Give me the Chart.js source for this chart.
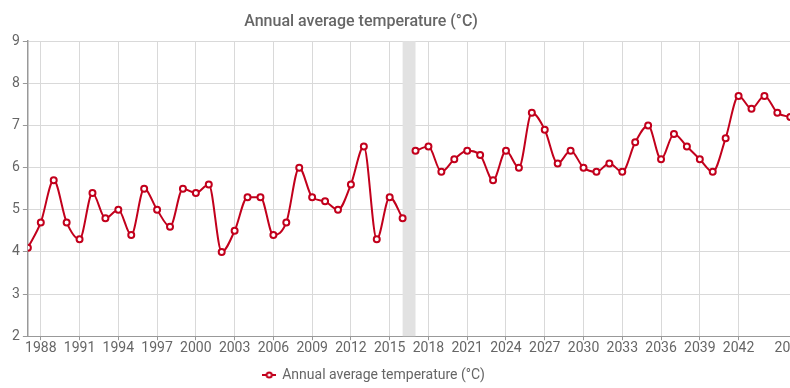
<!DOCTYPE html>
<html>
<head>
<meta charset="utf-8">
<script src="https://cdn.jsdelivr.net/npm/chart.js@4.4.1/dist/chart.umd.min.js"></script>
<style>
  html, body { margin: 0; padding: 0; background: #fff; overflow: hidden; }
  #wrap { width: 806px; height: 388px; }
</style>
</head>
<body>
<div id="wrap"><canvas id="myChart"></canvas></div>
<script>
const title = 'Annual average temperature (°C)';

// observed part, 1987-2016
const yearsA = [1987, 1988, 1989, 1990, 1991, 1992, 1993, 1994, 1995, 1996,
    1997, 1998, 1999, 2000, 2001, 2002, 2003, 2004, 2005, 2006,
    2007, 2008, 2009, 2010, 2011, 2012, 2013, 2014, 2015, 2016];
const tempsA = [4.1, 4.7, 5.7, 4.7, 4.3, 5.4, 4.8, 5.0, 4.4, 5.5,
    5.0, 4.6, 5.5, 5.4, 5.6, 4.0, 4.5, 5.3, 5.3, 4.4,
    4.7, 6.0, 5.3, 5.2, 5.0, 5.6, 6.5, 4.3, 5.3, 4.8];

// second part, 2017-2046
const yearsB = [2017, 2018, 2019, 2020, 2021, 2022, 2023, 2024, 2025, 2026,
    2027, 2028, 2029, 2030, 2031, 2032, 2033, 2034, 2035, 2036,
    2037, 2038, 2039, 2040, 2041, 2042, 2043, 2044, 2045, 2046];
const tempsB = [6.4, 6.5, 5.9, 6.2, 6.4, 6.3, 5.7, 6.4, 6.0, 7.3,
    6.9, 6.1, 6.4, 6.0, 5.9, 6.1, 5.9, 6.6, 7.0, 6.2,
    6.8, 6.5, 6.2, 5.9, 6.7, 7.7, 7.4, 7.7, 7.3, 7.2];

const xTicks = [1988, 1991, 1994, 1997, 2000, 2003, 2006, 2009, 2012, 2015,
    2018, 2021, 2024, 2027, 2030, 2033, 2036, 2039, 2042, 2046];
const yTicks = [2, 3, 4, 5, 6, 7, 8, 9];
const band = [2016, 2017];

const red = '#c2001c';
const grey = '#666';
Chart.defaults.font.family = 'Roboto';

function toPoints(xs, ys) {
    return xs.map((x, i) => ({ x: x, y: ys[i] }));
}

// little "-o-" symbol for the legend
const legendMark = document.createElement('canvas');
legendMark.width = 14;
legendMark.height = 10;
const lm = legendMark.getContext('2d');
lm.strokeStyle = red;
lm.lineWidth = 2;
lm.beginPath();
lm.moveTo(0, 5);
lm.lineTo(14, 5);
lm.stroke();
lm.fillStyle = '#fff';
lm.beginPath();
lm.arc(7, 5, 2.6, 0, Math.PI * 2);
lm.fill();
lm.stroke();

const bandPlugin = {
    id: 'band',
    beforeDatasetsDraw(chart) {
        const x = chart.scales.x;
        const area = chart.chartArea;
        const ctx = chart.ctx;
        ctx.save();
        ctx.fillStyle = '#e2e2e2';
        const x0 = x.getPixelForValue(band[0]);
        const x1 = x.getPixelForValue(band[1]);
        ctx.fillRect(x0, area.top, x1 - x0, area.bottom - area.top);
        ctx.restore();
    }
};

// title and legend sit a bit left of the canvas middle in the original
const centerPlugin = {
    id: 'centerBoxes',
    afterLayout(chart) {
        const move = (box, c) => {
            const w = box.right - box.left;
            box.left = c - w / 2;
            box.right = c + w / 2;
        };
        move(chart.titleBlock, 361);
        move(chart.legend, 374);
        chart.legend.top += 5;
        chart.legend.bottom += 5;
    }
};

const lineStyle = {
    borderColor: red,
    backgroundColor: '#fff',
    borderWidth: 2,
    pointRadius: 3,
    pointBorderWidth: 2,
    pointBackgroundColor: '#fff',
    pointBorderColor: red,
    cubicInterpolationMode: 'monotone',
    fill: false
};

var ctx = document.getElementById('myChart').getContext('2d');
new Chart(ctx, {
    type: 'line',
    data: {
        datasets: [
            Object.assign({ label: title, data: toPoints(yearsA, tempsA) }, lineStyle),
            Object.assign({ label: title + ' ', data: toPoints(yearsB, tempsB) }, lineStyle)
        ]
    },
    options: {
        responsive: true,
        maintainAspectRatio: false,
        animation: false,
        layout: { padding: { left: 9, right: 0, top: 0, bottom: 1 } },
        plugins: {
            title: {
                display: true,
                text: title,
                color: grey,
                font: { size: 16, weight: '500' },
                padding: { top: 12, bottom: 10 }
            },
            legend: {
                position: 'bottom',
                labels: {
                    color: grey,
                    font: { size: 14 },
                    usePointStyle: true,
                    boxWidth: 12,
                    padding: 6,
                    filter: (item) => item.datasetIndex === 0,
                    generateLabels: (chart) => [{
                        text: title,
                        datasetIndex: 0,
                        pointStyle: legendMark,
                        fontColor: grey,
                        lineWidth: 0,
                        strokeStyle: red,
                        fillStyle: '#fff'
                    }]
                }
            },
            tooltip: { enabled: false }
        },
        scales: {
            x: {
                type: 'linear',
                min: 1987,
                max: 2046,
                afterBuildTicks: (axis) => { axis.ticks = xTicks.map(v => ({ value: v })); },
                ticks: {
                    color: grey,
                    font: { size: 14 },
                    autoSkip: false,
                    maxRotation: 0,
                    padding: 0,
                    callback: (v) => String(v)
                },
                grid: { color: '#d9d9d9', tickLength: 4, tickColor: '#999' },
                border: { color: '#999' }
            },
            y: {
                min: 2,
                max: 9,
                afterBuildTicks: (axis) => { axis.ticks = yTicks.map(v => ({ value: v })); },
                ticks: { color: grey, font: { size: 14 }, padding: 3 },
                grid: { color: '#d9d9d9', tickLength: 5, tickColor: '#999' },
                border: { color: '#999', width: 1.5 }
            }
        }
    },
    plugins: [bandPlugin, centerPlugin]
});
</script>
</body>
</html>
